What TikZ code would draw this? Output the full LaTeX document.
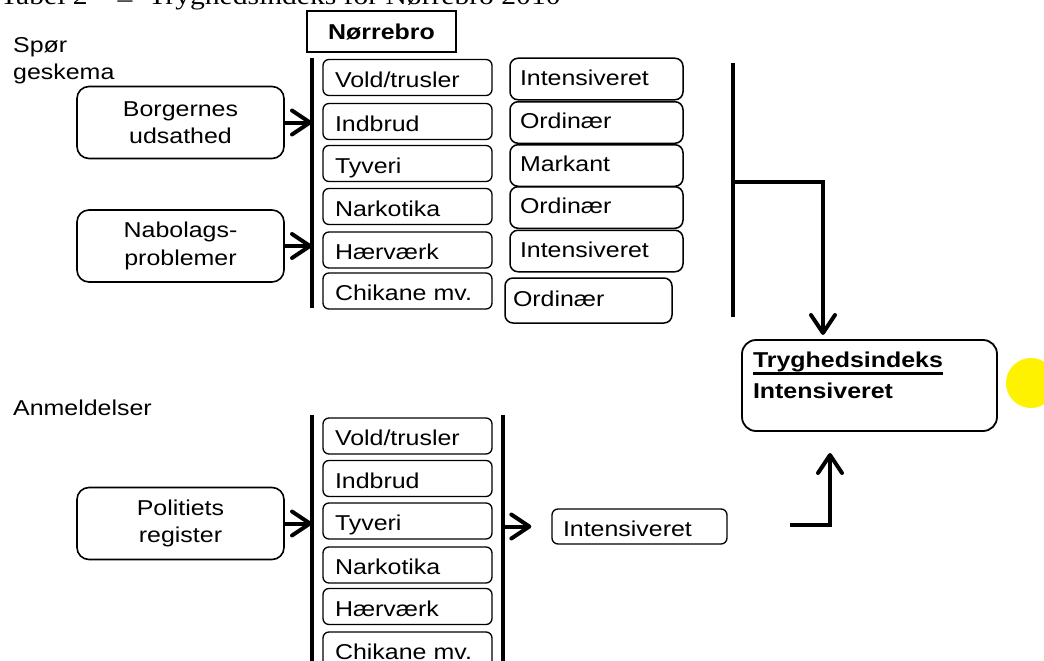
\documentclass[tikz,border=0pt]{standalone}
\usepackage{fontspec}
\setmainfont{Liberation Sans}[FakeStretch=1.16]
\newfontfamily\titlefont{Liberation Serif}[FakeStretch=1.16]
\usetikzlibrary{arrows.meta}
\newcommand{\thickul}[1]{\setbox0\hbox{#1}\rlap{\rule[-7.5pt]{\wd0}{3pt}}\box0}
\begin{document}
\begin{tikzpicture}[x=1pt,y=-1pt,
  font=\fontsize{21.5}{27.5}\selectfont,
  smallbox/.style={draw, line width=1.3pt, rounded corners=6pt, minimum width=169pt, minimum height=36pt,
    inner xsep=12pt, inner ysep=0pt, text width=145pt, align=left, text height=19pt, text depth=0pt},
  rbox/.style={draw, line width=1.5pt, rounded corners=8pt, minimum width=173pt, minimum height=41.5pt,
    inner xsep=10pt, inner ysep=0pt, text width=153pt, align=left, text height=16pt, text depth=4pt},
  bigbox/.style={draw, line width=1.6pt, rounded corners=12pt, minimum width=207pt, minimum height=72pt,
    align=center, inner sep=0pt},
  bar/.style={line width=4pt},
  arr/.style={line width=4pt, -{Straight Barb[length=18pt,width=24pt,round]}},
]
\useasboundingbox (0,0) rectangle (1044,661);
\clip (0,0) rectangle (1044,661);

% title (cut at top)
\node[anchor=base west, inner sep=0pt, font=\titlefont\fontsize{25.5}{28}\selectfont] (title) at (0,4.5)
  {Tabel 2\hspace{30pt}\raisebox{-3.5pt}{–}\hspace{16pt}Tryghedsindeks for Nørrebro 2010};

% header
\node[draw, line width=2pt, minimum width=149pt, minimum height=41pt, inner sep=0pt,
  text height=15.5pt, text depth=0pt, font=\fontsize{21.5}{27.5}\selectfont\bfseries] (nb) at (381.5,31.5) {Nørrebro};

\node[anchor=north west, inner sep=0pt, align=left] (sp) at (13,37) {Spør\\geskema};
\node[anchor=base west, inner sep=0pt] (anm) at (13,415) {Anmeldelser};

% source boxes
\node[bigbox] (borg) at (180.5,122.5) {Borgernes\\udsathed};
\node[bigbox] (nab) at (180.5,246) {Nabolags-\\problemer};
\node[bigbox] (pol) at (180.5,523.5) {Politiets\\register};

% top categories
\node[smallbox] (t1) at (407.5,77.5) {Vold/trusler};
\node[smallbox] (t2) at (407.5,121.5) {Indbrud};
\node[smallbox] (t3) at (407.5,163.5) {Tyveri};
\node[smallbox] (t4) at (407.5,206.5) {Narkotika};
\node[smallbox] (t5) at (407.5,250) {Hærværk};
\node[smallbox] (t6) at (407.5,291) {Chikane mv.};

% top levels
\node[rbox] (r1) at (596.5,79) {Intensiveret};
\node[rbox] (r2) at (596.5,122.5) {Ordinær};
\node[rbox] (r3) at (596.5,165.5) {Markant};
\node[rbox] (r4) at (596.5,207.5) {Ordinær};
\node[rbox] (r5) at (596.5,251) {Intensiveret};
\node[rbox, minimum width=167pt, minimum height=45pt, inner xsep=8pt, text width=151pt] (r6) at (588.5,300.5) {Ordinær};

% bottom categories
\node[smallbox] (b1) at (407.5,436) {Vold/trusler};
\node[smallbox] (b2) at (407.5,478.5) {Indbrud};
\node[smallbox] (b3) at (407.5,521) {Tyveri};
\node[smallbox] (b4) at (407.5,565) {Narkotika};
\node[smallbox] (b5) at (407.5,606.5) {Hærværk};
\node[smallbox] (b6) at (407.5,650) {Chikane mv.};

\node[smallbox, minimum width=175pt, inner xsep=11pt, text width=153pt, minimum height=35pt] (bint) at (639.5,526.5) {Intensiveret};

% result
\node[draw, line width=1.8pt, rounded corners=14pt, minimum width=255pt, minimum height=91pt,
  inner xsep=11pt, inner ysep=0pt, text width=233pt, align=left,
  font=\fontsize{21.5}{31}\selectfont\bfseries] (tryg) at (869.5,385.5)
  {\thickul{Tryghedsindeks}\\Intensiveret\rule[-21.5pt]{0pt}{0pt}};

\node[circle, fill=yellow, minimum size=50pt, inner sep=0pt] (dot) at (1031,383) {};

% bars
\coordinate (tlT) at (312,58);  \coordinate (tlB) at (312,308);
\coordinate (rT) at (733,63);   \coordinate (rB) at (733,317);
\coordinate (blT) at (312,415); \coordinate (blB) at (312,670);
\coordinate (brT) at (503,415); \coordinate (brB) at (503,670);
\draw[bar] (tlT) -- (tlB);
\draw[bar] (rT) -- (rB);
\draw[bar] (blT) -- (blB);
\draw[bar] (brT) -- (brB);

% arrows
\draw[arr] (borg.east) -- (borg.east -| tlT);
\draw[arr] (nab.east) -- (nab.east -| tlT);
\draw[arr] (pol.east) -- (pol.east -| blT);
\draw[arr] (brT |- bint.west) -- ([xshift=-20pt]bint.west);

\coordinate (rj) at (733,182);
\coordinate (downTip) at (823,335);
\draw[arr, line join=miter] (rj) -| (downTip);

\coordinate (upS) at (790,525);
\coordinate (upTip) at (830,453);
\draw[arr, line join=miter] (upS) -| (upTip);
\end{tikzpicture}
\end{document}
